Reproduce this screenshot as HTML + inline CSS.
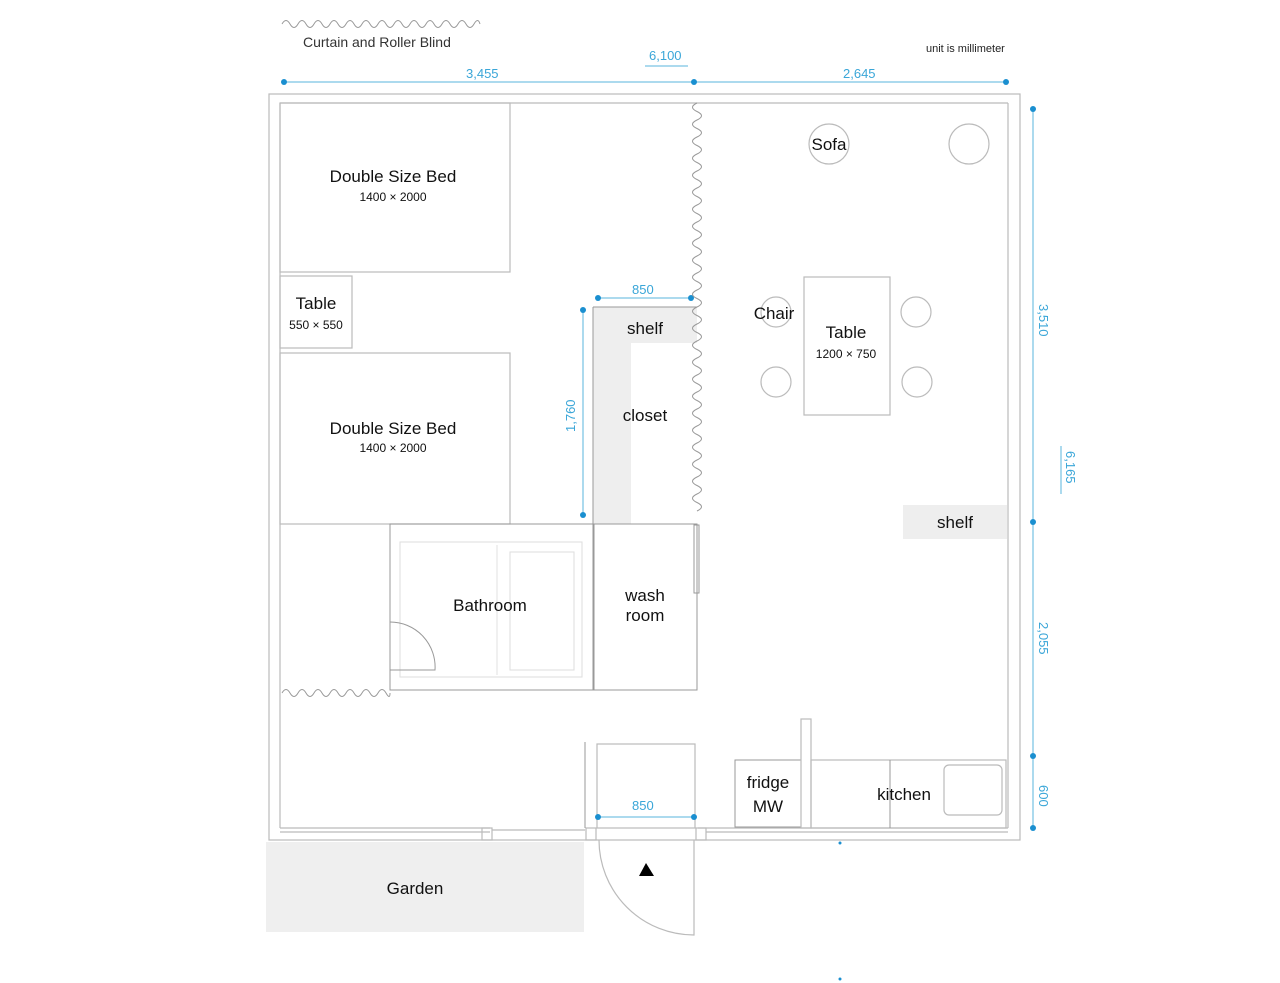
<!DOCTYPE html>
<html><head><meta charset="utf-8"><style>
html,body{margin:0;padding:0;background:#fff;}
svg{display:block;font-family:"Liberation Sans",sans-serif;}
.w{fill:none;stroke:#bbb;stroke-width:1.2}
.f{fill:none;stroke:#999;stroke-width:1}
.d{stroke:#5ab4dc;stroke-width:1;fill:none}
.dt{fill:#1a8fd0}
.dl{fill:#3aa6d8;font-size:13px}
.t{fill:#111;font-size:17px;text-anchor:middle}
.s{fill:#111;font-size:12px;text-anchor:middle}
</style></head><body>
<svg width="1280" height="983" viewBox="0 0 1280 983" xmlns="http://www.w3.org/2000/svg">
<!-- legend -->
<path class="f" d="M282,24 q4,-7 8,0 t8,0 t8,0 t8,0 t8,0 t8,0 t8,0 t8,0 t8,0 t8,0 t8,0 t8,0 t8,0 t8,0 t8,0 t8,0 t8,0 t8,0 t8,0 t8,0 t8,0 t8,0 t8,0 t8,0 t6,0" stroke="#777"/>
<text x="303" y="47" fill="#333" font-size="14">Curtain and Roller Blind</text>
<text x="926" y="52" fill="#222" font-size="11">unit is millimeter</text>

<!-- top dims -->
<line class="d" x1="284" y1="82" x2="1006" y2="82"/>
<circle class="dt" cx="284" cy="82" r="3"/><circle class="dt" cx="694" cy="82" r="3"/><circle class="dt" cx="1006" cy="82" r="3"/>
<text class="dl" x="466" y="78">3,455</text>
<text class="dl" x="649" y="60">6,100</text>
<line class="d" x1="645" y1="66" x2="688" y2="66" stroke-width="0.6"/>
<text class="dl" x="843" y="78">2,645</text>

<!-- right dims -->
<line class="d" x1="1033" y1="109" x2="1033" y2="828"/>
<circle class="dt" cx="1033" cy="109" r="3"/><circle class="dt" cx="1033" cy="522" r="3"/><circle class="dt" cx="1033" cy="756" r="3"/><circle class="dt" cx="1033" cy="828" r="3"/>
<text class="dl" transform="translate(1039,304) rotate(90)">3,510</text>
<text class="dl" transform="translate(1066,451) rotate(90)">6,165</text>
<line class="d" x1="1061" y1="446" x2="1061" y2="494" stroke-width="0.6"/>
<text class="dl" transform="translate(1039,622) rotate(90)">2,055</text>
<text class="dl" transform="translate(1039,785) rotate(90)">600</text>

<!-- walls -->
<rect class="w" x="269" y="94" width="751" height="746"/>
<line class="w" x1="280" y1="103" x2="1008" y2="103"/>
<line class="w" x1="280" y1="103" x2="280" y2="828"/>
<line class="w" x1="1008" y1="103" x2="1008" y2="828"/>
<line class="w" x1="280" y1="828" x2="490" y2="828"/>
<line class="w" x1="280" y1="832" x2="490" y2="832"/>
<rect class="w" x="482" y="828" width="10" height="12"/>
<line class="w" x1="492" y1="830" x2="585" y2="830"/>
<line class="w" x1="698" y1="828" x2="1008" y2="828"/>
<line class="w" x1="706" y1="832" x2="1008" y2="832"/>
<rect class="w" x="696" y="828" width="10" height="12"/>
<rect class="w" x="586" y="828" width="10" height="12"/>

<!-- garden -->
<rect x="266" y="842" width="318" height="90" fill="#efefef"/>
<text class="t" x="415" y="894" font-size="23">Garden</text>

<!-- beds -->
<rect class="w" x="280" y="103" width="230" height="169"/>
<text class="t" x="393" y="182">Double Size Bed</text><text class="s" x="393" y="201">1400 × 2000</text>
<rect class="w" x="280" y="276" width="72" height="72"/>
<text class="t" x="316" y="309">Table</text><text class="s" x="316" y="329">550 × 550</text>
<rect class="w" x="280" y="353" width="230" height="171"/>
<text class="t" x="393" y="434">Double Size Bed</text><text class="s" x="393" y="452">1400 × 2000</text>

<!-- closet -->
<rect x="593" y="307" width="38" height="217" fill="#eee"/>
<rect x="593" y="307" width="104" height="36" fill="#eee"/>
<line class="f" x1="593" y1="307" x2="697" y2="307"/>
<line class="f" x1="593" y1="307" x2="593" y2="524"/>
<text class="t" x="645" y="334">shelf</text>
<text class="t" x="645" y="421">closet</text>
<line class="d" x1="598" y1="298" x2="691" y2="298"/>
<circle class="dt" cx="598" cy="298" r="3"/><circle class="dt" cx="691" cy="298" r="3"/>
<text class="dl" x="632" y="294">850</text>
<line class="d" x1="583" y1="310" x2="583" y2="515"/>
<circle class="dt" cx="583" cy="310" r="3"/><circle class="dt" cx="583" cy="515" r="3"/>
<text class="dl" transform="translate(575,432) rotate(-90)">1,760</text>

<!-- curtain vertical -->
<path class="f" stroke="#666" d="M697,103 q-9,4.25 0,8.5 t0,8.5 t0,8.5 t0,8.5 t0,8.5 t0,8.5 t0,8.5 t0,8.5 t0,8.5 t0,8.5 t0,8.5 t0,8.5 t0,8.5 t0,8.5 t0,8.5 t0,8.5 t0,8.5 t0,8.5 t0,8.5 t0,8.5 t0,8.5 t0,8.5 t0,8.5 t0,8.5 t0,8.5 t0,8.5 t0,8.5 t0,8.5 t0,8.5 t0,8.5 t0,8.5 t0,8.5 t0,8.5 t0,8.5 t0,8.5 t0,8.5 t0,8.5 t0,8.5 t0,8.5 t0,8.5 t0,8.5 t0,8.5 t0,8.5 t0,8.5 t0,8.5 t0,8.5 t0,8.5 t0,8.5"/>
<!-- curtain bottom-left -->
<path class="f" stroke="#666" d="M282,693 q4,-7 8,0 t8,0 t8,0 t8,0 t8,0 t8,0 t8,0 t8,0 t8,0 t8,0 t8,0 t8,0 t8,0 t4,0"/>

<!-- bathroom -->
<rect class="f" x="390" y="524" width="203" height="166"/>
<rect x="400" y="542" width="182" height="135" fill="none" stroke="#ddd"/>
<rect x="510" y="552" width="64" height="118" fill="none" stroke="#ddd"/>
<line x1="497" y1="545" x2="497" y2="675" stroke="#e2e2e2"/>
<path class="f" d="M390,670 L435,670 A45,45 0 0 0 390,622"/>
<text class="t" x="490" y="611">Bathroom</text>
<!-- washroom -->
<rect class="f" x="594" y="524" width="103" height="166"/>
<rect class="f" x="694" y="525" width="5" height="68"/>
<text class="t" x="645" y="601">wash</text><text class="t" x="645" y="621">room</text>

<!-- living -->
<circle class="w" cx="829" cy="144" r="20"/><text class="t" x="829" y="150">Sofa</text>
<circle class="w" cx="969" cy="144" r="20"/>
<rect class="w" x="804" y="277" width="86" height="138"/>
<text class="t" x="846" y="338">Table</text><text class="s" x="846" y="358">1200 × 750</text>
<circle class="w" cx="776" cy="312" r="15"/><text class="t" x="774" y="319">Chair</text>
<circle class="w" cx="916" cy="312" r="15"/>
<circle class="w" cx="776" cy="382" r="15"/>
<circle class="w" cx="917" cy="382" r="15"/>
<rect x="903" y="505" width="104" height="34" fill="#eee"/>
<text class="t" x="955" y="528">shelf</text>

<!-- entrance -->
<line class="f" x1="585" y1="742" x2="585" y2="828"/>
<rect class="w" x="597" y="744" width="98" height="84"/>
<line class="d" x1="598" y1="817" x2="694" y2="817"/>
<circle class="dt" cx="598" cy="817" r="3"/><circle class="dt" cx="694" cy="817" r="3"/>
<text class="dl" x="632" y="810">850</text>
<path class="w" d="M599,840 A95,95 0 0 0 694,935 L694,840"/>
<polygon points="646,863 639,876 654,876" fill="#000"/>

<!-- kitchen -->
<rect class="f" x="735" y="760" width="66" height="67"/>
<text class="t" x="768" y="788">fridge</text><text class="t" x="768" y="812">MW</text>
<rect class="w" x="801" y="719" width="10" height="109"/>
<rect class="w" x="811" y="760" width="195" height="68"/>
<line class="f" x1="890" y1="760" x2="890" y2="828"/>
<rect class="w" x="944" y="765" width="58" height="50" rx="5"/>
<text class="t" x="904" y="800">kitchen</text>
<circle class="dt" cx="840" cy="843" r="1.5"/>
<circle class="dt" cx="840" cy="979" r="1.5"/>
</svg>
</body></html>
